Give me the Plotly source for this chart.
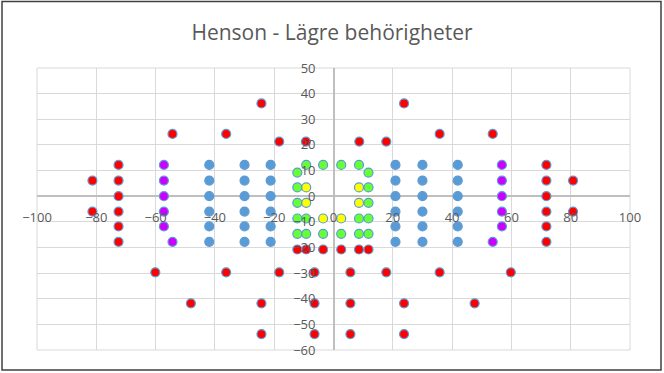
import plotly.graph_objects as go

# Data
red_x = [-24.3, 23.8, -54.3, -36.2, 35.8, 53.7, -18.3, -9.3, 8.7, 17.8,
         -72.5, 71.8,
         -81.3, -72.5, 71.8, 80.8,
         -72.5, 71.8,
         -81.3, -72.5, 71.8, 80.8,
         -72.5, 71.8,
         -72.5, 71.8,
         -12.2, -9.2, -3.5, 2.6, 8.6, 11.8,
         -60.1, -36.2, -18.3, -6.4, 5.7, 17.8, 35.8, 59.8,
         -48.1, -24.3, -6.4, 5.7, 23.8, 47.6,
         -24.3, -6.4, 5.7, 23.8]
red_y = [36.2, 36.2, 24.3, 24.3, 24.3, 24.3, 21.3, 21.3, 21.3, 21.3,
         12.2, 12.2,
         6.1, 6.1, 6.1, 6.1,
         0, 0,
         -6.0, -6.0, -6.0, -6.0,
         -11.8, -11.8,
         -17.8, -17.8,
         -20.8, -20.8, -20.8, -20.8, -20.8, -20.8,
         -29.7, -29.7, -29.7, -29.7, -29.7, -29.7, -29.7, -29.7,
         -41.8, -41.8, -41.8, -41.8, -41.8, -41.8,
         -53.8, -53.8, -53.8, -53.8]

blue_x = [-41.9, -30.0, -21.2, 20.9, 30.0, 41.9,
          -41.9, -30.0, -21.2, 20.9, 30.0, 41.9,
          -41.9, -30.0, -21.2, 20.9, 30.0, 41.9,
          -41.9, -30.0, -21.2, 20.9, 30.0, 41.9,
          -41.9, -30.0, -21.2, 20.9, 30.0, 41.9,
          -41.9, -30.0, -21.2, 20.9, 30.0, 41.9]
blue_y = [12.2, 12.2, 12.2, 12.2, 12.2, 12.2,
          6.1, 6.1, 6.1, 6.1, 6.1, 6.1,
          0, 0, 0, 0, 0, 0,
          -6.0, -6.0, -6.0, -6.0, -6.0, -6.0,
          -11.8, -11.8, -11.8, -11.8, -11.8, -11.8,
          -17.8, -17.8, -17.8, -17.8, -17.8, -17.8]

magenta_x = [-57.2, -57.2, -57.2, -57.2, -57.2, -54.3,
             56.8, 56.8, 56.8, 56.8, 56.8, 53.7]
magenta_y = [12.2, 6.1, 0, -6.0, -11.8, -17.8,
             12.2, 6.1, 0, -6.0, -11.8, -17.8]

green_x = [-9.2, -3.5, 2.6, 8.6,
           -12.2, 11.8,
           -12.2, 11.8,
           -12.2, 11.8,
           -12.2, -9.2, 8.6, 11.8,
           -12.2, -9.2, -3.5, 2.6, 8.6, 11.8]
green_y = [12.2, 12.2, 12.2, 12.2,
           9.2, 9.2,
           3.4, 3.4,
           -2.6, -2.6,
           -8.7, -8.7, -8.7, -8.7,
           -14.7, -14.7, -14.7, -14.7, -14.7, -14.7]

yellow_x = [-9.2, 8.6, -9.2, 8.6, -3.5, 2.6]
yellow_y = [3.4, 3.4, -2.6, -2.6, -8.7, -8.7]

x_ticks = [-100, -80, -60, -40, -20, 0, 20, 40, 60, 80, 100]
y_ticks = [50, 40, 30, 20, 10, 0, -10, -20, -30, -40, -50, -60]

series = [
    (blue_x, blue_y, "#5B9BD5"),
    (magenta_x, magenta_y, "#CC00FF"),
    (green_x, green_y, "#66FF33"),
    (yellow_x, yellow_y, "#FFFF00"),
    (red_x, red_y, "#FF0000"),
]

fig = go.Figure()
for xs, ys, col in series:
    fig.add_trace(go.Scatter(
        x=xs, y=ys, mode="markers",
        marker=dict(size=9, color=col, line=dict(color="#5B9BD5", width=1.2)),
        showlegend=False, cliponaxis=False, hoverinfo="skip",
    ))

W, H = 664, 373
ml, mr, mt, mb = 37, 34, 68, 23
pw, ph = W - ml - mr, H - mt - mb

fig.update_layout(
    width=W, height=H,
    margin=dict(l=ml, r=mr, t=mt, b=mb, pad=0, autoexpand=False),
    paper_bgcolor="white", plot_bgcolor="white",
    title=dict(text="Henson - Lägre behörigheter", x=0.5, xanchor="center",
               y=1 - 33 / H, yanchor="middle",
               font=dict(family="Open Sans", size=21, color="#595959")),
    font=dict(family="Open Sans", size=13, color="#595959"),
    xaxis=dict(range=[-100, 100], tickvals=x_ticks, showgrid=True,
               gridcolor="#D9D9D9", gridwidth=1, zeroline=True,
               zerolinecolor="#BFBFBF", zerolinewidth=1.5,
               anchor="free", position=60 / 110, showline=False,
               ticks="", ticklabelstandoff=12,
               tickfont=dict(size=13, color="#595959")),
    yaxis=dict(range=[-60, 50], tickvals=y_ticks, showgrid=True,
               gridcolor="#D9D9D9", gridwidth=1, zeroline=True,
               zerolinecolor="#BFBFBF", zerolinewidth=1.5,
               anchor="free", position=0.5, showline=False,
               ticks="", ticklabelstandoff=18,
               tickfont=dict(size=13, color="#595959")),
    shapes=[
        dict(type="rect", xref="paper", yref="paper", x0=0, x1=1, y0=0, y1=1,
             line=dict(color="#D9D9D9", width=1), layer="below"),
        dict(type="rect", xref="paper", yref="paper",
             x0=(2 - ml) / pw, x1=(661 - ml) / pw,
             y0=(H - mb - 370) / ph, y1=(H - mb - 1.5) / ph,
             line=dict(color="#404040", width=1.5), layer="below"),
    ],
)

fig.write_html("out.html",
               config={"displayModeBar": False},
               post_script="document.body.style.margin='0';document.body.style.padding='0';")
